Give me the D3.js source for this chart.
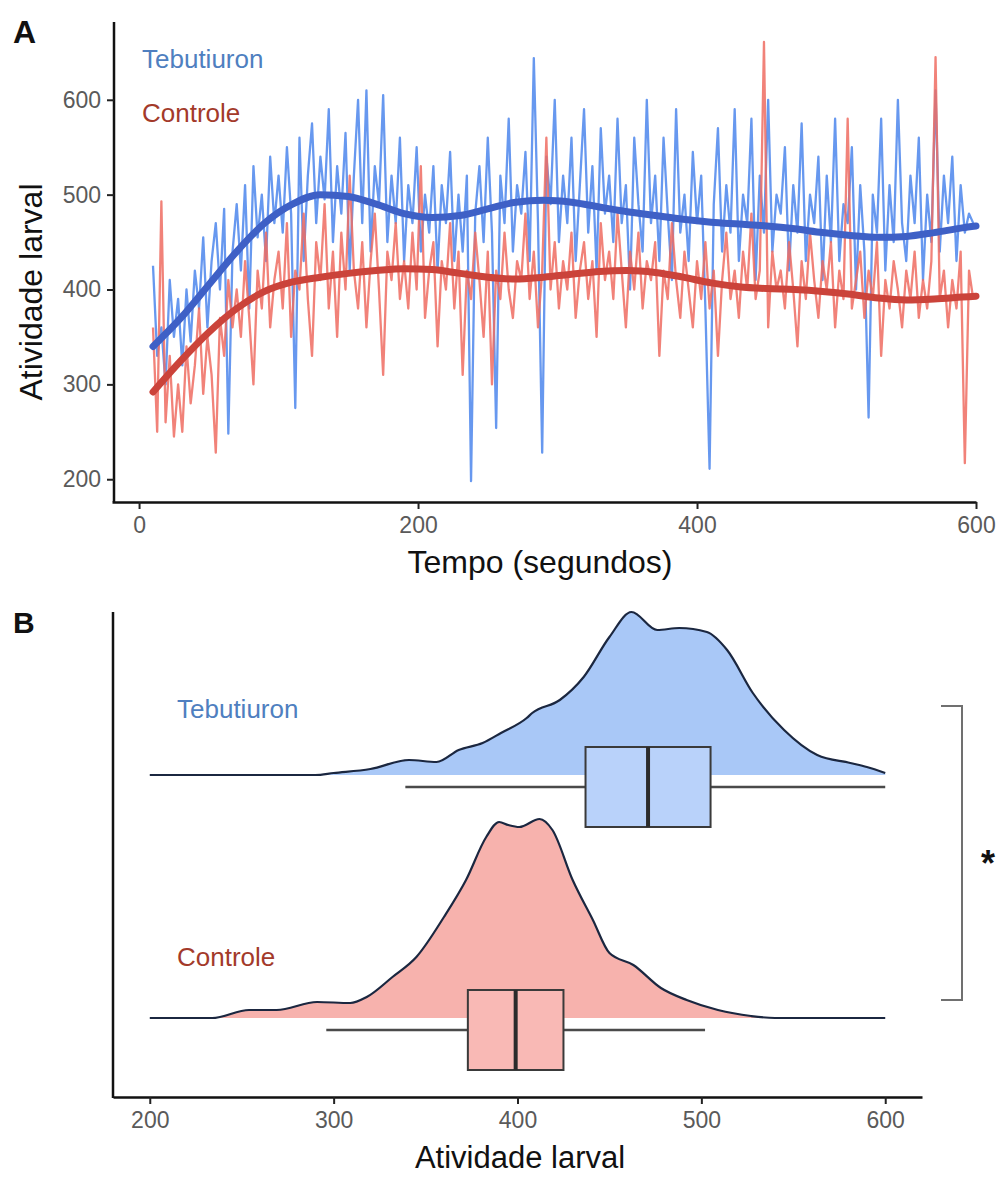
<!DOCTYPE html>
<html>
<head>
<meta charset="utf-8">
<script src="https://cdn.jsdelivr.net/npm/d3@7"></script>
<style>
    body { margin: 0; background: #ffffff; }
    svg text { font-family: "Liberation Sans", Arial, sans-serif; }
</style>
</head>
<body>
<div id="figura"></div>
<script>
// ---- Painel A: atividade ao longo do tempo (amostras a cada 3 s, a partir de 10 s)
var tempo = d3.range(10, 600, 3);

var atividadeTebutiuron = [
    425, 330, 360, 300, 410, 350, 390, 320, 400, 345,
    420, 380, 455, 360, 430, 470, 400, 485, 248, 440,
    490, 420, 510, 380, 530, 455, 500, 430, 540, 470,
    520, 460, 550, 480, 275, 560, 430, 520, 575, 470,
    540, 495, 590, 450, 530, 480, 565, 420, 520, 600,
    470, 610, 440, 530, 490, 605, 450, 520, 470, 560,
    430, 510, 470, 550, 440, 500, 460, 530, 420, 510,
    470, 545, 430, 500, 440, 520, 198, 480, 530, 450,
    560, 460, 254, 520, 470, 580, 440, 510, 480, 545,
    430, 644, 470, 228, 540, 490, 600, 450, 520, 470,
    560, 430, 510, 590, 460, 530, 420, 570, 480, 520,
    450, 580, 470, 510, 400, 560, 490, 440, 600, 470,
    520, 430, 560, 480, 410, 590, 460, 500, 430, 545,
    470, 520, 380, 211, 490, 570, 440, 510, 460, 590,
    430, 500, 470, 580, 410, 520, 460, 600, 440, 500,
    480, 550, 420, 510, 460, 575, 430, 500, 470, 540,
    410, 520, 450, 580, 430, 490, 470, 550, 400, 510,
    440, 265, 500, 460, 580, 420, 510, 450, 600, 470,
    430, 520, 470, 560, 410, 500, 450, 610, 440, 520,
    470, 540, 430, 510, 460, 480, 470
];

var atividadeControle = [
    360, 250, 493, 260, 330, 245, 300, 250, 340, 280,
    320, 380, 290, 350, 310, 228, 370, 330, 410, 360,
    400, 350, 430, 370, 300, 420, 380, 460, 360, 410,
    440, 380, 470, 350, 420, 400, 480, 390, 330, 450,
    410, 490, 380, 440, 350, 460, 400, 520, 420, 380,
    450, 360, 430, 480, 400, 310, 440, 410, 470, 390,
    430, 380, 460, 400, 530, 370, 420, 450, 340, 430,
    400, 470, 380, 440, 310, 420, 390, 460, 410, 350,
    440, 300, 420, 390, 460, 400, 370, 430, 410, 480,
    390, 440, 360, 420, 560, 400, 450, 380, 430, 400,
    460, 370, 420, 450, 390, 430, 350, 470, 410, 440,
    390, 480, 420, 360, 440, 400, 460, 380, 430, 410,
    450, 330, 420, 390, 470, 410, 370, 440, 400, 360,
    430, 390, 450, 380, 420, 330, 410, 460, 390, 420,
    370, 440, 400, 480, 390, 420, 661, 360, 440, 400,
    420, 380, 450, 400, 340, 430, 390, 460, 410, 370,
    430, 400, 450, 360, 420, 390, 580, 380, 410, 440,
    370, 420, 390, 450, 330, 410, 380, 430, 400, 360,
    420, 390, 440, 370, 410, 380, 430, 645, 390, 420,
    360, 410, 380, 440, 217, 420, 390
];

// curvas suavizadas
var tempoTendencia = [10, 30, 50, 70, 90, 110, 130, 150, 170, 190, 210, 230, 250, 270, 290, 310, 330, 350, 370, 390, 410, 430, 450, 470, 490, 510, 530, 550, 570, 590, 600];
var tendenciaTebutiuron = [340, 370, 405, 440, 470, 490, 500, 498, 490, 480, 476, 478, 485, 492, 494, 492, 487, 482, 478, 474, 471, 469, 467, 464, 460, 457, 455, 456, 460, 465, 467];
var tendenciaControle = [292, 325, 355, 380, 398, 408, 413, 417, 420, 422, 421, 417, 413, 411, 413, 416, 419, 420, 418, 413, 407, 403, 401, 400, 398, 395, 391, 389, 390, 392, 393];

var ticksTempo = [0, 200, 400, 600];
var ticksAtividadeA = [200, 300, 400, 500, 600];

// ---- Painel B: densidades (relativas) e caixas
var grupos = ["Tebutiuron", "Controle"];
var gradeTebutiuron = [200, 290, 300, 320, 341, 356, 368, 381, 391, 405, 408, 423, 436, 450, 462, 476, 488, 503, 514, 528, 545, 563, 581, 590, 600];
var densidadeTebutiuron = [0, 0, 0.01, 0.03, 0.075, 0.065, 0.125, 0.16, 0.21, 0.285, 0.31, 0.375, 0.49, 0.69, 0.815, 0.725, 0.735, 0.715, 0.625, 0.41, 0.225, 0.10, 0.06, 0.04, 0.01];
var gradeControle = [200, 234, 254, 269, 291, 309, 318, 332, 345, 360, 372, 383, 390, 395, 401, 412, 419, 430, 441, 450, 463, 478, 492, 509, 527, 540, 600];
var densidadeControle = [0, 0, 0.04, 0.04, 0.08, 0.075, 0.105, 0.205, 0.305, 0.505, 0.69, 0.905, 0.98, 0.965, 0.955, 0.995, 0.94, 0.69, 0.49, 0.325, 0.265, 0.15, 0.09, 0.04, 0.01, 0, 0];

var minimo = [339, 296];
var quartil1 = [437, 373];
var mediana = [471, 399];
var quartil3 = [505, 425];
var maximo = [600, 502];

var ticksAtividadeB = [200, 300, 400, 500, 600];

var corTebu = "#4f7fc0", corCtrl = "#a33a2a";

var svg = d3.select("#figura")
    .append("svg")
    .attr("width", 998)
    .attr("height", 1178);

// ================= Painel A =================
var xA = d3.scaleLinear().domain([-19.4, 600]).range([112, 976]);
var yA = d3.scaleLinear().domain([176, 682]).range([502, 22]);

var gA = svg.append("g");

var linha = d3.line()
    .x(function (d) { return xA(d.t); })
    .y(function (d) { return yA(d.v); });

var serieTebu = tempo.map(function (t, i) { return { t: t, v: atividadeTebutiuron[i] }; });
var serieCtrl = tempo.map(function (t, i) { return { t: t, v: atividadeControle[i] }; });

gA.append("path")
    .datum(serieTebu)
    .attr("d", linha)
    .attr("fill", "none")
    .attr("stroke", "#5f92ee")
    .attr("stroke-width", 2.3)
    .attr("stroke-linejoin", "round")
    .attr("opacity", 0.95);

gA.append("path")
    .datum(serieCtrl)
    .attr("d", linha)
    .attr("fill", "none")
    .attr("stroke", "#ef6c62")
    .attr("stroke-width", 2.3)
    .attr("stroke-linejoin", "round")
    .attr("opacity", 0.85);

var suave = d3.line()
    .curve(d3.curveMonotoneX)
    .x(function (d) { return xA(d.t); })
    .y(function (d) { return yA(d.v); });

gA.append("path")
    .datum(tempoTendencia.map(function (t, i) { return { t: t, v: tendenciaControle[i] }; }))
    .attr("d", suave)
    .attr("fill", "none")
    .attr("stroke", "#cb433a")
    .attr("stroke-width", 7)
    .attr("stroke-linecap", "round");

gA.append("path")
    .datum(tempoTendencia.map(function (t, i) { return { t: t, v: tendenciaTebutiuron[i] }; }))
    .attr("d", suave)
    .attr("fill", "none")
    .attr("stroke", "#3e60c6")
    .attr("stroke-width", 7)
    .attr("stroke-linecap", "round");

var eixoYA = gA.append("g")
    .attr("transform", "translate(114,0)")
    .call(d3.axisLeft(yA).tickValues(ticksAtividadeA).tickSize(7).tickPadding(6).tickSizeOuter(0));
var eixoXA = gA.append("g")
    .attr("transform", "translate(0,502)")
    .call(d3.axisBottom(xA).tickValues(ticksTempo).tickSize(7).tickPadding(8).tickSizeOuter(0));

[eixoYA, eixoXA].forEach(function (ax) {
    ax.select(".domain").attr("stroke", "#111").attr("stroke-width", 2.5);
    ax.selectAll(".tick line").attr("stroke", "#222").attr("stroke-width", 2);
    ax.selectAll(".tick text").attr("fill", "#5a5a5a").attr("font-size", 23)
        .style("font-family", "Liberation Sans, Arial, sans-serif");
});
eixoYA.select(".domain").attr("d", "M0," + 22 + "V" + 502);

gA.append("text")
    .attr("transform", "translate(42,292) rotate(-90)")
    .attr("text-anchor", "middle")
    .attr("font-size", 32)
    .attr("fill", "#111")
    .text("Atividade larval");

gA.append("text")
    .attr("x", 540).attr("y", 573)
    .attr("text-anchor", "middle")
    .attr("font-size", 32)
    .attr("fill", "#111")
    .text("Tempo (segundos)");

gA.append("text").attr("x", 142).attr("y", 68).attr("font-size", 26).attr("fill", corTebu).text("Tebutiuron");
gA.append("text").attr("x", 142).attr("y", 122).attr("font-size", 26).attr("fill", corCtrl).text("Controle");

svg.append("text").attr("x", 13).attr("y", 43).attr("font-size", 32).attr("font-weight", "bold").attr("fill", "#111").text("A");
svg.append("text").attr("x", 13).attr("y", 633).attr("font-size", 30).attr("font-weight", "bold").attr("fill", "#111").text("B");

// ================= Painel B =================
var xB = d3.scaleLinear().domain([180, 620]).range([113, 922]);
var yB = d3.scalePoint().domain(["Controle", "Tebutiuron"]).range([1018, 775]);
var alturaDens = d3.scaleLinear().domain([0, 1]).range([0, 200]);

var gB = svg.append("g");

var cristas = [
    { grupo: "Tebutiuron", grade: gradeTebutiuron, dens: densidadeTebutiuron, fill: "#a9c8f7", box: "#b9d2fa" },
    { grupo: "Controle", grade: gradeControle, dens: densidadeControle, fill: "#f7b2ad", box: "#f9b9b5" }
];

cristas.forEach(function (c) {
    var base = yB(c.grupo);
    var pts = c.grade.map(function (g, i) { return { v: g, d: c.dens[i] }; });

    gB.append("path")
        .datum(pts)
        .attr("d", d3.area()
            .curve(d3.curveMonotoneX)
            .x(function (d) { return xB(d.v); })
            .y0(base)
            .y1(function (d) { return base - alturaDens(d.d); }))
        .attr("fill", c.fill);

    gB.append("path")
        .datum(pts)
        .attr("d", d3.line()
            .curve(d3.curveMonotoneX)
            .x(function (d) { return xB(d.v); })
            .y(function (d) { return base - alturaDens(d.d); }))
        .attr("fill", "none")
        .attr("stroke", "#1b2740")
        .attr("stroke-width", 2.2);

    var i = grupos.indexOf(c.grupo);
    var cy = base + 12;

    gB.append("line")
        .attr("x1", xB(minimo[i])).attr("x2", xB(maximo[i]))
        .attr("y1", cy).attr("y2", cy)
        .attr("stroke", "#4a4a4a").attr("stroke-width", 2.5);

    gB.append("rect")
        .attr("x", xB(quartil1[i]))
        .attr("y", cy - 40)
        .attr("width", xB(quartil3[i]) - xB(quartil1[i]))
        .attr("height", 80)
        .attr("fill", c.box)
        .attr("stroke", "#3a3a3a")
        .attr("stroke-width", 2);

    gB.append("line")
        .attr("x1", xB(mediana[i])).attr("x2", xB(mediana[i]))
        .attr("y1", cy - 40).attr("y2", cy + 40)
        .attr("stroke", "#2b2b2b").attr("stroke-width", 4);
});

var eixoXB = gB.append("g")
    .attr("transform", "translate(0,1097)")
    .call(d3.axisBottom(xB).tickValues(ticksAtividadeB).tickSize(7).tickPadding(8).tickSizeOuter(0));
eixoXB.select(".domain").attr("stroke", "#111").attr("stroke-width", 2.5);
eixoXB.selectAll(".tick line").attr("stroke", "#222").attr("stroke-width", 2);
eixoXB.selectAll(".tick text").attr("fill", "#5a5a5a").attr("font-size", 23)
    .style("font-family", "Liberation Sans, Arial, sans-serif");

gB.append("line")
    .attr("x1", 113).attr("x2", 113)
    .attr("y1", 612).attr("y2", 1098)
    .attr("stroke", "#111").attr("stroke-width", 2.5);

gB.append("text")
    .attr("x", 520).attr("y", 1168)
    .attr("text-anchor", "middle")
    .attr("font-size", 31)
    .attr("fill", "#111")
    .text("Atividade larval");

gB.append("text").attr("x", 177).attr("y", 718).attr("font-size", 26).attr("fill", corTebu).text("Tebutiuron");
gB.append("text").attr("x", 177).attr("y", 966).attr("font-size", 26).attr("fill", corCtrl).text("Controle");

// colchete de significancia
gB.append("path")
    .attr("d", "M941,706H962V1000H941")
    .attr("fill", "none")
    .attr("stroke", "#707070")
    .attr("stroke-width", 2);

gB.append("text")
    .attr("x", 988).attr("y", 876)
    .attr("text-anchor", "middle")
    .attr("font-size", 36)
    .attr("font-weight", "bold")
    .attr("fill", "#111")
    .text("*");
</script>
</body>
</html>
